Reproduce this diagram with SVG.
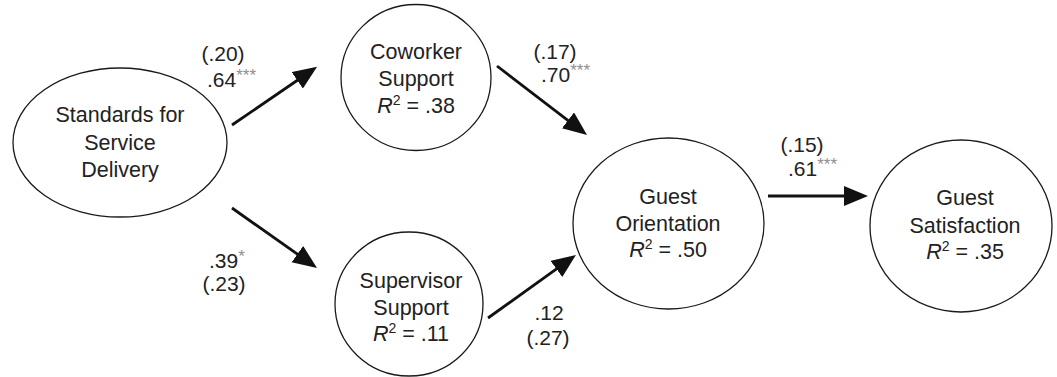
<svg xmlns="http://www.w3.org/2000/svg" width="1057" height="377" viewBox="0 0 1057 377">
  <style>
    .node { fill: #ffffff; stroke: #1a1a1a; stroke-width: 1.3; }
    .nt { font-family: "Liberation Sans", Arial, sans-serif; font-size: 21.5px; fill: #222; text-anchor: middle; }
    .lbl { font-family: "Liberation Sans", Arial, sans-serif; font-size: 21px; fill: #222; }
    .star { font-size: 17px; fill: #8f8f8f; }
    .sup { font-size: 14px; }
    .it { font-style: italic; }
    .edge { stroke: #111; stroke-width: 2.8; fill: none; marker-end: url(#ah); }
  </style>
  <defs>
    <marker id="ah" markerUnits="userSpaceOnUse" markerWidth="26" markerHeight="22" refX="13" refY="10" orient="auto">
      <path d="M0,0 L24,10 L0,20 z" fill="#111"/>
    </marker>
  </defs>
  <rect width="1057" height="377" fill="#ffffff"/>

  <g id="connectors">
    <line class="edge" x1="232" y1="125" x2="308" y2="73"/>
    <line class="edge" x1="232" y1="208" x2="308" y2="261.6"/>
    <line class="edge" x1="497" y1="66" x2="578.3" y2="128.3"/>
    <line class="edge" x1="488" y1="318" x2="567" y2="261.4"/>
    <line class="edge" x1="768" y1="196" x2="857" y2="196"/>
    <text class="lbl" x="223" y="61" text-anchor="middle">(.20)</text>
    <text class="lbl" x="207" y="87">.64<tspan class="star" dy="-6">***</tspan></text>
    <text class="lbl" x="555" y="59" text-anchor="middle">(.17)</text>
    <text class="lbl" x="541" y="82">.70<tspan class="star" dy="-6">***</tspan></text>
    <text class="lbl" x="802" y="152" text-anchor="middle">(.15)</text>
    <text class="lbl" x="788" y="176">.61<tspan class="star" dy="-6">***</tspan></text>
    <text class="lbl" x="209" y="268">.39<tspan class="star" dy="-6">*</tspan></text>
    <text class="lbl" x="224" y="291" text-anchor="middle">(.23)</text>
    <text class="lbl" x="549" y="320" text-anchor="middle">.12</text>
    <text class="lbl" x="548" y="345" text-anchor="middle">(.27)</text>
  </g>

  <g id="standards">
    <ellipse class="node" cx="120" cy="142.5" rx="107" ry="74.5"/>
    <text class="nt" x="120" y="122">Standards for</text>
    <text class="nt" x="120" y="150">Service</text>
    <text class="nt" x="120" y="177">Delivery</text>
  </g>

  <g id="coworker">
    <ellipse class="node" cx="416" cy="77.5" rx="75" ry="73"/>
    <text class="nt" x="416" y="59">Coworker</text>
    <text class="nt" x="416" y="86">Support</text>
    <text class="nt" x="416" y="113"><tspan class="it">R</tspan><tspan class="sup" dy="-8">2</tspan><tspan dy="8"> = .38</tspan></text>
  </g>

  <g id="supervisor">
    <ellipse class="node" cx="409" cy="304" rx="74" ry="72"/>
    <text class="nt" x="411" y="288">Supervisor</text>
    <text class="nt" x="411" y="315">Support</text>
    <text class="nt" x="411" y="341"><tspan class="it">R</tspan><tspan class="sup" dy="-8">2</tspan><tspan dy="8"> = .11</tspan></text>
  </g>

  <g id="guest-orientation">
    <ellipse class="node" cx="668.5" cy="223.5" rx="95.5" ry="85.5"/>
    <text class="nt" x="668" y="204">Guest</text>
    <text class="nt" x="668" y="231">Orientation</text>
    <text class="nt" x="668" y="257"><tspan class="it">R</tspan><tspan class="sup" dy="-8">2</tspan><tspan dy="8"> = .50</tspan></text>
  </g>

  <g id="guest-satisfaction">
    <ellipse class="node" cx="961" cy="226" rx="91" ry="86"/>
    <text class="nt" x="965" y="205">Guest</text>
    <text class="nt" x="965" y="233">Satisfaction</text>
    <text class="nt" x="965" y="259"><tspan class="it">R</tspan><tspan class="sup" dy="-8">2</tspan><tspan dy="8"> = .35</tspan></text>
  </g>
</svg>
